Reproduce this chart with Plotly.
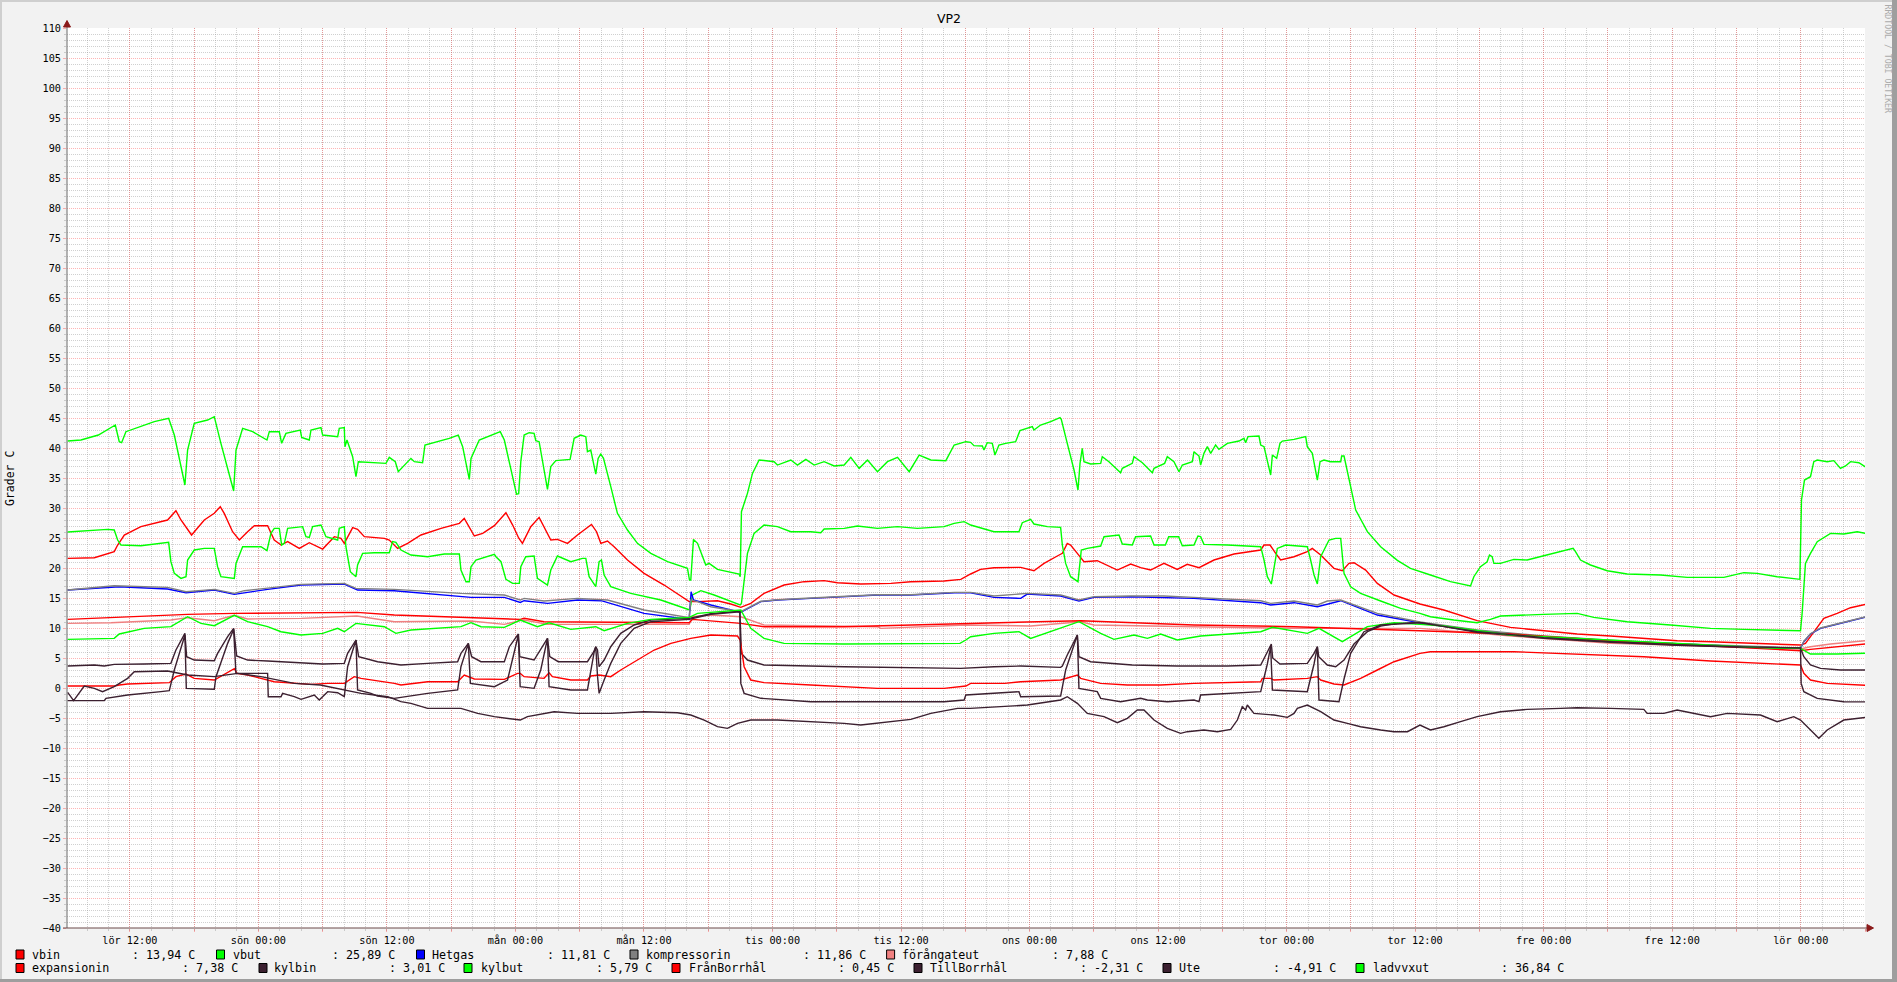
import plotly.graph_objects as go

# ---------------- data: (hours since Saturday 00:00, temperature in C) ----------------
vbin = [(6.19, 21.61), (8.68, 21.72), (10.54, 22.72), (10.86, 23.83), (11.48, 25.5), (13.03, 26.89),
        (15.52, 28.0), (16.30, 29.55), (16.77, 28.0), (17.76, 25.5), (18.95, 28.0), (19.88, 29.11),
        (20.44, 30.22), (20.81, 29.11), (21.59, 26.05), (22.22, 24.66), (22.99, 26.05), (23.62, 27.05),
        (24.86, 27.05), (25.48, 24.66), (26.11, 23.83), (26.73, 24.39), (27.82, 23.27), (28.75, 24.22),
        (30.0, 23.16), (31.09, 25.22), (31.71, 24.94), (32.02, 24.11), (32.80, 26.72), (33.26, 26.44),
        (33.89, 25.22), (35.76, 24.94), (36.22, 24.66), (37.0, 23.27), (37.93, 24.11), (39.18, 25.5),
        (41.05, 26.61), (42.76, 27.44), (43.22, 28.27), (44.16, 25.33), (44.94, 25.77), (46.03, 27.05),
        (47.11, 29.22), (47.74, 27.16), (48.30, 25.0), (48.65, 24.11), (49.43, 26.89), (50.21, 28.44),
        (51.30, 24.66), (51.92, 24.77), (52.86, 24.11), (53.79, 25.5), (55.10, 27.27), (55.57, 26.05),
        (55.97, 24.11), (56.59, 24.5), (57.21, 23.55), (58.46, 21.33), (60.01, 19.11), (61.88, 17.16),
        (64.22, 14.39), (65.0, 14.39), (66.86, 14.55), (68.10, 14.0), (69.04, 13.44), (69.97, 14.11),
        (71.21, 15.77), (73.08, 17.16), (74.95, 17.72), (76.82, 17.89), (78.07, 17.55), (80.24, 17.33),
        (83.05, 17.44), (84.91, 17.72), (88.02, 17.83), (89.58, 18.11), (90.50, 19.0), (91.42, 19.77),
        (92.68, 20.05), (95.17, 20.11), (96.41, 19.55), (97.35, 20.77), (98.59, 22.0), (99.06, 22.44),
        (99.52, 24.11), (99.83, 23.83), (100.46, 22.44), (101.08, 21.05), (102.32, 21.22), (103.26, 20.5),
        (104.19, 19.66), (105.44, 20.66), (106.37, 20.05), (107.30, 19.66), (108.55, 20.77), (109.79, 19.77),
        (110.72, 20.61), (111.82, 20.05), (113.22, 21.33), (115.09, 22.33), (117.58, 23.0), (117.89, 23.83),
        (118.45, 23.83), (118.98, 22.44), (119.44, 21.33), (120.69, 21.88), (121.93, 22.72), (122.40, 23.27),
        (123.18, 22.16), (124.42, 19.94), (125.20, 19.55), (125.82, 20.77), (126.29, 20.88), (127.38, 19.66),
        (128.47, 17.44), (130.03, 15.5), (132.45, 14.0), (134.68, 13.0), (137.79, 11.22), (140.90, 10.11),
        (144.01, 9.55), (147.13, 9.0), (150.24, 8.66), (153.35, 8.27), (156.46, 7.88), (159.58, 7.72),
        (162.69, 7.55), (165.80, 7.33), (167.98, 7.16), (168.44, 7.44), (169.22, 9.38), (170.16, 11.61),
        (171.40, 12.44), (172.65, 13.38), (174.05, 13.94)]

vbut = [(6.19, 26.0), (9.92, 26.44), (10.54, 26.33), (10.86, 24.66), (11.17, 23.83), (13.03, 23.72),
        (15.62, 24.27), (15.83, 21.05), (16.15, 19.11), (16.77, 18.27), (17.24, 18.55), (17.39, 21.33),
        (18.01, 23.0), (18.95, 23.27), (19.88, 23.27), (20.19, 20.22), (20.50, 18.55), (21.75, 18.27),
        (21.91, 20.77), (22.53, 23.55), (24.24, 23.55), (24.80, 22.89), (25.17, 25.77), (25.48, 26.61),
        (25.95, 26.61), (26.17, 23.83), (26.42, 24.11), (26.73, 26.61), (28.13, 26.89), (28.44, 25.22),
        (28.75, 25.11), (29.06, 26.89), (29.84, 27.16), (30.31, 25.22), (31.40, 24.66), (31.55, 26.61),
        (32.02, 26.89), (32.17, 23.55), (32.58, 19.38), (33.11, 18.55), (33.26, 20.5), (33.73, 22.44),
        (34.82, 22.55), (36.22, 22.55), (36.53, 24.39), (36.84, 24.27), (37.31, 23.0), (38.24, 22.16),
        (39.80, 21.88), (41.36, 22.33), (42.76, 22.33), (42.91, 19.66), (43.38, 17.72), (43.69, 17.72),
        (43.85, 20.22), (44.31, 21.33), (46.03, 22.27), (46.18, 21.88), (46.65, 21.05), (47.11, 18.11),
        (47.74, 17.44), (48.36, 17.44), (48.50, 20.22), (48.96, 21.88), (49.74, 22.0), (50.05, 18.27),
        (50.99, 17.16), (51.30, 19.66), (51.92, 22.0), (53.17, 21.05), (54.26, 21.61), (54.57, 21.61),
        (54.88, 18.55), (55.50, 16.88), (55.81, 21.05), (56.03, 21.33), (56.28, 18.83), (56.90, 16.88),
        (58.77, 15.77), (61.57, 14.66), (64.28, 13.0), (64.53, 15.5), (65.31, 16.22), (66.55, 15.5),
        (68.98, 13.83), (69.10, 14.11), (69.66, 22.44), (70.28, 25.77), (71.21, 27.16), (72.46, 26.89),
        (73.71, 26.05), (75.58, 26.05), (76.51, 25.89), (76.82, 26.5), (78.69, 26.61), (79.93, 27.0),
        (81.80, 26.61), (83.67, 26.89), (85.53, 26.61), (88.02, 26.89), (88.96, 27.44), (89.89, 27.72),
        (90.50, 27.16), (92.68, 26.05), (95.01, 26.05), (95.32, 27.55), (96.10, 28.11), (96.41, 27.33),
        (97.66, 26.89), (98.90, 26.77), (99.06, 23.83), (99.37, 20.77), (99.83, 18.55), (100.52, 17.72),
        (100.83, 23.0), (101.39, 23.27), (102.64, 23.66), (102.95, 25.22), (104.35, 25.5), (104.66, 24.0),
        (105.59, 23.83), (105.90, 25.22), (107.30, 25.33), (107.62, 23.83), (108.68, 23.83), (108.99, 25.22),
        (109.92, 25.22), (110.26, 23.72), (111.35, 23.83), (111.72, 25.33), (111.97, 25.22), (112.28, 23.94),
        (114.47, 23.83), (117.58, 23.55), (117.89, 21.33), (118.20, 18.55), (118.57, 17.33), (118.82, 20.22),
        (119.13, 23.27), (119.91, 23.83), (121.93, 23.55), (122.24, 21.33), (122.56, 18.83), (122.87, 17.33),
        (123.18, 21.88), (123.96, 24.66), (124.58, 24.94), (125.05, 24.94), (125.36, 19.11), (125.98, 16.88),
        (126.91, 15.77), (128.78, 14.5), (130.65, 13.27), (132.45, 12.44), (133.43, 11.88), (135.61, 11.33),
        (137.79, 10.88), (139.03, 11.44), (139.97, 12.0), (144.01, 12.27), (147.13, 12.44), (148.68, 11.77),
        (151.80, 11.05), (155.84, 10.5), (159.58, 9.94), (162.69, 9.77), (165.80, 9.66), (167.98, 9.55),
        (168.13, 12.44), (168.44, 20.77), (168.91, 22.44), (169.54, 24.39), (170.78, 25.77), (172.02, 25.66),
        (173.27, 26.05), (174.05, 25.77)]

hetgas = [(6.19, 16.33), (11.01, 16.88), (15.52, 16.5), (17.24, 15.88), (19.88, 16.33), (21.75, 15.61),
          (24.86, 16.44), (27.98, 17.16), (32.02, 17.33), (33.26, 16.33), (36.69, 16.22), (39.80, 15.77),
          (43.85, 15.11), (46.96, 15.11), (48.45, 14.27), (48.81, 14.55), (51.0, 14.11), (53.79, 14.66),
          (56.0, 14.55), (60.01, 12.44), (64.22, 11.44), (64.40, 16.05), (64.62, 14.66), (66.24, 13.83),
          (69.04, 12.61), (70.91, 14.39), (72.46, 14.66), (75.58, 14.94), (78.69, 15.22), (81.80, 15.5),
          (84.91, 15.5), (89.0, 15.88), (90.5, 15.88), (92.68, 15.11), (95.17, 14.94), (95.79, 15.66),
          (98.90, 15.33), (100.61, 14.5), (102.01, 15.11), (105.44, 15.22), (111.35, 14.94), (114.47, 14.55),
          (117.58, 14.22), (118.51, 13.83), (120.69, 14.22), (122.87, 13.55), (125.05, 14.55), (128.47, 12.16),
          (132.45, 10.88), (137.79, 9.55), (144.01, 8.55), (150.24, 7.88), (156.46, 7.33), (162.69, 6.88),
          (167.98, 6.61), (168.29, 7.72), (168.91, 9.0), (169.85, 9.94), (171.09, 10.5), (172.65, 11.22),
          (174.05, 11.81)]

kompressorin = [(6.19, 16.33), (10.54, 17.05), (15.52, 16.77), (17.24, 16.05), (19.88, 16.44), (21.75, 15.77),
                (22.68, 16.22), (24.86, 16.61), (27.98, 17.27), (32.02, 17.44), (33.11, 16.61), (36.69, 16.44),
                (42.91, 15.77), (46.96, 15.5), (48.45, 14.66), (48.81, 14.94), (50.67, 14.5), (53.79, 14.94),
                (56.59, 14.66), (60.01, 13.0), (64.22, 11.72), (64.37, 14.66), (65.0, 14.39), (66.24, 13.55),
                (69.04, 12.72), (70.91, 14.45), (72.46, 14.72), (75.58, 15.0), (78.69, 15.28), (81.80, 15.55),
                (84.91, 15.55), (89.0, 15.94), (90.5, 15.94), (92.68, 15.33), (95.79, 15.77), (98.90, 15.5),
                (100.61, 14.66), (102.01, 15.22), (105.44, 15.33), (108.55, 15.33), (111.35, 15.11),
                (114.47, 14.77), (117.58, 14.55), (118.51, 14.11), (120.69, 14.5), (122.87, 13.83),
                (123.80, 14.5), (125.05, 14.66), (128.47, 12.44), (132.45, 11.0), (137.79, 9.66), (144.01, 8.66),
                (150.24, 7.95), (156.46, 7.4), (162.69, 6.95), (167.98, 6.66), (168.29, 7.77), (168.91, 9.05),
                (169.85, 10.0), (171.09, 10.55), (172.65, 11.27), (174.05, 11.86)]

forangateut = [(6.19, 10.77), (10.23, 10.88), (15.83, 11.33), (17.39, 11.72), (19.88, 11.22), (21.75, 12.11),
               (22.99, 11.5), (25.48, 11.55), (28.0, 11.61), (33.20, 12.0), (36.69, 11.05), (43.85, 11.16),
               (46.96, 10.61), (48.45, 11.22), (48.81, 11.33), (50.99, 10.61), (56.0, 10.61), (64.22, 10.61),
               (64.53, 11.88), (66.24, 12.16), (69.04, 11.88), (71.21, 10.5), (81.80, 10.22), (82.11, 9.94),
               (90.05, 10.5), (96.10, 10.33), (100.77, 11.05), (102.01, 10.5), (111.35, 10.22), (120.69, 9.94),
               (132.45, 9.94), (141.0, 8.66), (150.24, 7.44), (159.58, 6.88), (167.98, 6.5), (168.91, 6.88),
               (170.78, 7.33), (174.05, 7.88)]

expansionin = [(6.19, 11.44), (10.23, 11.77), (17.39, 12.27), (21.75, 12.44), (33.20, 12.61), (36.69, 12.16),
               (48.45, 11.44), (48.81, 11.61), (50.67, 11.05), (64.22, 10.88), (64.53, 11.44), (69.04, 10.77),
               (71.21, 10.22), (78.69, 10.22), (90.05, 10.77), (100.77, 11.22), (111.35, 10.5), (120.69, 10.22),
               (132.45, 9.55), (140.90, 9.0), (150.24, 7.88), (159.58, 7.05), (167.98, 6.22), (168.91, 6.44),
               (174.05, 7.33)]

kylbin = [(6.19, 3.66), (8.68, 3.83), (9.61, 3.66), (10.54, 3.94), (13.34, 4.0), (15.83, 4.11), (16.30, 6.33),
          (17.14, 9.11), (17.30, 5.22), (18.01, 4.66), (19.88, 4.55), (20.19, 5.77), (21.13, 8.55), (21.69, 9.94),
          (21.97, 5.33), (22.99, 4.66), (24.86, 4.5), (27.35, 4.22), (30.0, 4.0), (32.02, 4.11), (32.33, 5.77),
          (33.11, 8.0), (33.36, 5.22), (35.13, 4.38), (37.31, 3.83), (39.80, 4.11), (42.60, 4.38), (42.91, 5.77),
          (43.60, 7.44), (43.91, 5.22), (44.78, 4.38), (46.96, 4.38), (47.43, 6.88), (48.27, 9.0), (48.40, 5.22),
          (49.74, 4.66), (50.05, 5.5), (50.99, 8.27), (51.20, 5.22), (52.0, 4.38), (54.72, 4.38), (55.30, 6.0),
          (55.50, 6.88), (55.66, 6.33), (55.81, 3.55), (56.28, 4.66), (56.90, 6.88), (57.83, 9.11), (59.08, 10.5),
          (60.64, 11.33), (64.22, 11.61), (66.24, 12.4), (68.95, 12.8), (69.10, 5.77), (69.66, 4.66),
          (71.21, 3.83), (78.69, 3.55), (89.56, 3.27), (92.68, 3.55), (95.17, 3.66), (98.90, 3.44), (99.06, 3.66),
          (99.52, 5.5), (100.46, 8.83), (100.61, 5.22), (101.70, 4.38), (105.59, 3.83), (109.79, 3.66),
          (114.47, 3.66), (117.58, 3.83), (118.20, 6.0), (118.57, 7.33), (118.70, 5.0), (119.38, 4.0),
          (121.93, 4.11), (122.56, 5.77), (122.87, 6.88), (123.0, 5.22), (123.80, 3.83), (124.58, 3.55),
          (125.36, 4.66), (126.29, 7.33), (127.54, 9.38), (128.78, 10.33), (130.34, 10.77), (132.45, 10.94),
          (137.79, 9.3), (144.01, 8.3), (150.24, 7.6), (156.46, 7.1), (162.69, 6.8), (167.98, 6.65),
          (168.29, 5.22), (168.91, 3.83), (169.85, 3.27), (171.71, 3.0), (174.05, 3.01)]

kylbut = [(6.19, 8.11), (10.54, 8.27), (11.01, 9.0), (13.34, 9.94), (15.83, 10.22), (17.39, 11.88), (18.64, 10.77),
          (19.88, 10.38), (21.75, 12.11), (22.99, 11.05), (24.86, 10.22), (26.11, 9.38), (27.98, 8.83), (30.0, 9.11),
          (31.40, 9.94), (32.02, 9.38), (33.11, 10.77), (35.76, 10.22), (36.84, 9.11), (38.24, 9.66), (42.91, 10.22),
          (43.85, 10.88), (44.78, 10.22), (46.96, 10.11), (48.45, 11.33), (50.05, 10.22), (51.14, 10.88),
          (53.17, 9.77), (55.50, 10.22), (56.28, 9.55), (58.46, 10.77), (60.64, 11.44), (64.22, 11.77),
          (65.0, 12.44), (69.04, 13.0), (69.97, 9.94), (71.21, 8.27), (73.08, 7.44), (78.69, 7.33), (88.02, 7.44),
          (89.5, 7.44), (90.05, 8.0), (90.5, 8.55), (92.68, 9.11), (95.01, 9.38), (96.10, 8.27), (97.97, 9.38),
          (100.61, 11.05), (102.64, 9.11), (103.88, 8.11), (105.75, 8.83), (107.0, 8.27), (108.24, 9.0),
          (109.79, 8.0), (111.97, 8.66), (117.58, 9.38), (118.67, 10.11), (121.93, 9.11), (123.02, 9.94),
          (125.20, 7.72), (127.54, 10.22), (130.03, 10.88), (132.45, 10.61), (134.68, 10.33), (140.90, 8.83),
          (147.13, 8.27), (153.35, 7.72), (159.58, 7.16), (165.80, 6.61), (167.98, 6.61), (168.91, 5.66),
          (171.40, 5.66), (174.05, 5.79)]

franborrhal = [(6.19, 0.33), (10.54, 0.33), (11.01, 0.5), (11.79, 0.66), (15.68, 0.89), (16.30, 1.89),
               (17.24, 2.33), (18.01, 1.61), (19.88, 1.33), (21.75, 3.22), (22.0, 2.44), (22.99, 2.16),
               (25.48, 1.05), (27.35, 0.77), (28.91, 0.61), (30.47, 0.77), (32.02, 0.77), (32.95, 1.89),
               (33.58, 1.61), (36.69, 0.77), (37.31, 0.5), (39.80, 1.05), (42.60, 1.05), (43.22, 2.16),
               (44.16, 1.5), (46.96, 1.44), (48.20, 2.44), (48.45, 2.44), (48.81, 1.89), (50.67, 1.61),
               (51.14, 2.55), (51.45, 1.89), (53.17, 1.33), (54.72, 1.33), (55.03, 2.0), (55.81, 2.16),
               (56.90, 1.89), (57.83, 3.0), (59.39, 4.66), (60.95, 6.33), (62.51, 7.44), (64.37, 8.27),
               (66.24, 8.83), (68.73, 8.66), (68.98, 8.0), (69.35, 3.55), (69.97, 1.33), (71.21, 0.89),
               (75.58, 0.5), (78.69, 0.22), (81.80, -0.06), (88.02, -0.06), (90.05, 0.33), (90.5, 0.77),
               (93.68, 0.77), (95.17, 1.05), (98.90, 1.33), (100.46, 2.16), (100.77, 1.61), (102.64, 0.77),
               (105.13, 0.5), (108.24, 0.5), (111.35, 0.77), (117.58, 1.05), (117.73, 1.61), (118.51, 1.61),
               (118.82, 1.33), (121.93, 1.61), (122.87, 1.89), (123.18, 1.33), (124.42, 0.66), (125.36, 0.5),
               (126.91, 1.61), (128.47, 3.0), (130.03, 4.38), (132.45, 5.77), (133.43, 6.05), (141.21, 6.05),
               (147.13, 5.66), (153.35, 5.22), (159.58, 4.5), (165.80, 4.0), (167.98, 3.83), (168.29, 2.44),
               (168.91, 1.33), (170.47, 0.77), (174.05, 0.45)]

tillborrhal = [(6.19, -2.11), (9.61, -2.11), (9.77, -1.72), (11.79, -1.17), (14.90, -0.61), (15.68, -0.44),
               (16.15, 3.0), (17.14, 8.83), (17.27, -0.06), (19.88, -0.22), (20.04, 1.89), (21.13, 7.44),
               (21.69, 9.77), (21.90, 2.44), (24.86, 2.44), (24.92, -1.45), (26.11, -1.45), (26.26, -0.89),
               (27.35, -1.45), (27.98, -1.89), (29.22, -1.17), (29.68, -2.0), (30.47, -0.61), (31.40, -0.78),
               (32.02, -1.45), (32.33, 3.55), (33.11, 8.0), (33.26, -0.33), (34.51, -0.89), (35.13, -1.34),
               (36.69, -1.72), (39.80, -0.89), (42.60, -0.33), (42.91, 3.55), (43.60, 7.44), (43.79, 0.77),
               (46.03, 0.22), (47.26, 1.33), (48.27, 8.83), (48.44, 0.22), (49.74, -0.06), (50.36, 3.0),
               (50.99, 8.27), (51.14, 0.22), (53.17, -0.33), (54.72, -0.33), (55.35, 6.0), (55.50, 6.88),
               (55.66, 2.0), (55.81, -0.89), (56.28, 1.33), (56.90, 4.11), (57.83, 7.44), (59.08, 9.94),
               (60.64, 11.05), (64.22, 11.44), (66.24, 12.3), (68.95, 12.7), (69.04, 0.77), (69.35, -0.89),
               (70.91, -1.72), (75.58, -2.28), (88.02, -2.28), (89.89, -2.0), (90.05, -1.17), (95.01, -0.61),
               (95.17, -1.45), (98.90, -1.34), (99.37, 3.0), (100.46, 8.83), (100.61, -0.06), (102.32, -0.61),
               (102.64, -1.72), (104.50, -2.28), (106.37, -1.72), (107.0, -2.0), (108.86, -2.28), (111.35, -2.0),
               (111.82, -2.28), (111.97, -1.17), (117.58, -0.61), (118.20, 4.0), (118.51, 6.88), (118.67, -0.33),
               (121.93, -0.61), (122.56, 4.0), (122.87, 6.88), (123.02, -2.0), (124.89, -2.28), (125.36, 1.5),
               (125.98, 5.77), (127.22, 9.38), (128.78, 10.5), (132.45, 10.88), (137.79, 9.4), (144.01, 8.4),
               (150.24, 7.7), (156.46, 7.2), (162.69, 6.85), (167.98, 6.66), (168.04, 0.77), (168.29, -0.61),
               (169.54, -1.72), (172.02, -2.28), (174.05, -2.31)]

ute = [(6.19, -0.72), (6.75, -2.11), (7.74, 0.33), (8.68, -0.06), (9.45, -0.61), (10.54, 0.22), (11.79, 1.61),
       (12.41, 2.72), (15.52, 2.83), (17.39, 2.16), (19.88, 1.89), (22.06, 2.44), (24.24, 1.89), (27.35, 0.77),
       (29.78, 0.5), (32.02, -0.33), (33.58, -0.89), (36.07, -1.45), (37.31, -2.28), (38.24, -2.56),
       (39.80, -3.39), (42.91, -3.39), (44.47, -4.23), (46.03, -4.78), (48.45, -5.34), (49.12, -4.78),
       (51.61, -3.95), (53.79, -4.23), (56.90, -4.23), (60.01, -3.95), (63.13, -4.12), (64.37, -4.5),
       (65.62, -5.34), (66.86, -6.45), (67.79, -6.72), (68.73, -5.89), (69.97, -5.34), (72.46, -5.34),
       (75.58, -5.61), (78.69, -5.89), (80.24, -6.17), (81.80, -5.89), (84.91, -5.23), (86.78, -4.23),
       (89.27, -3.39), (90.45, -3.39), (92.68, -3.11), (95.79, -2.84), (98.90, -2.0), (99.52, -1.45),
       (100.46, -2.56), (101.39, -4.23), (102.95, -4.78), (104.19, -5.78), (105.13, -5.06), (106.06, -3.67),
       (106.68, -3.67), (107.62, -5.34), (108.86, -6.72), (110.10, -7.56), (110.72, -7.28), (112.28, -7.0),
       (113.53, -7.28), (114.78, -6.89), (115.40, -5.34), (115.86, -3.11), (116.17, -3.67), (116.33, -2.84),
       (116.95, -4.23), (118.82, -4.5), (120.07, -4.89), (120.69, -4.23), (121.0, -3.39), (121.93, -2.84),
       (123.18, -3.95), (124.42, -5.34), (125.67, -5.89), (126.91, -6.45), (128.78, -7.0), (130.03, -7.28),
       (131.28, -7.28), (132.45, -6.17), (133.43, -7.0), (134.68, -6.45), (136.24, -5.61), (137.79, -4.78),
       (139.97, -3.95), (142.46, -3.56), (145.57, -3.39), (147.13, -3.28), (150.24, -3.39), (153.35, -3.56),
       (153.66, -4.23), (155.22, -4.23), (156.46, -3.67), (158.02, -4.23), (159.58, -4.78), (161.13, -4.23),
       (162.69, -4.39), (164.24, -4.5), (165.80, -5.61), (167.35, -4.78), (167.98, -5.34), (168.91, -7.0),
       (169.69, -8.39), (170.47, -7.0), (172.02, -5.34), (174.05, -4.91)]

ladvvxut = [(6.19, 41.16), (7.43, 41.33), (9.06, 42.16), (10.64, 43.83), (11.01, 41.05), (11.23, 40.89),
            (11.63, 42.72), (14.28, 44.39), (15.62, 44.94), (16.15, 42.16), (17.14, 33.83), (17.39, 39.66),
            (18.01, 44.11), (19.26, 44.66), (19.88, 45.22), (20.50, 40.78), (21.69, 32.83), (21.91, 39.66),
            (22.53, 43.28), (23.46, 42.72), (24.80, 41.33), (25.02, 42.72), (25.95, 42.72), (26.17, 40.78),
            (26.57, 42.44), (27.91, 43.0), (28.04, 41.77), (28.75, 41.33), (28.91, 43.0), (29.84, 43.39),
            (30.0, 42.16), (31.40, 41.89), (31.55, 43.28), (32.02, 43.39), (32.08, 40.22), (32.27, 41.33),
            (32.80, 38.55), (33.11, 35.22), (33.33, 37.72), (35.91, 37.44), (36.22, 38.44), (36.78, 37.72),
            (37.06, 36.05), (37.62, 37.16), (38.24, 38.27), (38.56, 37.72), (39.33, 37.55), (39.55, 40.5),
            (40.73, 41.05), (41.82, 41.61), (42.66, 42.16), (43.07, 40.22), (43.69, 34.77), (43.85, 38.27),
            (44.62, 41.33), (45.71, 42.16), (46.58, 42.72), (46.96, 41.33), (48.10, 32.3), (48.30, 32.4),
            (48.50, 37.72), (48.81, 42.16), (49.28, 42.55), (49.74, 42.44), (49.90, 41.22), (50.21, 41.05),
            (50.99, 33.11), (51.30, 36.89), (51.77, 37.89), (53.10, 38.11), (53.48, 41.61), (54.10, 42.16),
            (54.57, 41.89), (54.72, 39.39), (55.03, 39.66), (55.50, 35.66), (55.72, 38.27), (55.97, 39.0),
            (56.22, 38.27), (56.90, 33.55), (57.52, 29.11), (58.46, 26.33), (59.39, 24.11), (60.64, 22.44),
            (62.20, 21.05), (64.06, 19.94), (64.25, 18.0), (64.37, 18.0), (64.62, 24.77), (65.0, 24.11),
            (65.77, 20.5), (66.08, 20.77), (66.86, 19.77), (68.88, 19.0), (68.98, 18.55), (69.10, 29.39),
            (69.66, 32.44), (70.13, 35.77), (70.75, 38.0), (72.15, 37.72), (72.46, 37.16), (73.71, 38.0),
            (74.33, 37.16), (75.11, 38.11), (75.89, 37.16), (76.82, 37.72), (77.76, 37.0), (78.69, 37.16),
            (79.31, 38.44), (80.09, 36.61), (80.87, 38.0), (81.80, 36.05), (82.73, 37.72), (83.67, 38.44),
            (84.76, 36.05), (85.69, 38.83), (86.78, 38.0), (88.18, 37.89), (88.96, 40.5), (90.05, 41.05),
            (90.50, 40.94), (90.81, 40.39), (91.59, 40.33), (91.74, 39.66), (92.05, 40.89), (92.52, 40.78),
            (92.77, 38.83), (93.14, 40.5), (93.77, 40.78), (94.70, 41.05), (95.10, 42.89), (96.26, 43.55),
            (96.41, 43.0), (97.03, 43.83), (97.97, 44.39), (98.84, 45.05), (98.96, 44.77), (99.52, 40.78),
            (100.15, 36.33), (100.52, 33.0), (100.71, 37.44), (100.92, 39.94), (101.08, 37.72), (101.70, 37.33),
            (102.64, 37.44), (102.79, 38.55), (103.41, 37.72), (104.50, 35.89), (104.66, 36.61), (105.59, 37.44),
            (105.75, 38.55), (106.53, 37.55), (107.46, 35.89), (107.62, 36.61), (108.61, 37.44), (108.86, 38.55),
            (109.48, 37.72), (109.95, 36.05), (110.26, 37.16), (111.20, 37.72), (111.35, 39.39), (111.82, 38.66),
            (111.97, 37.16), (112.28, 39.11), (112.60, 40.22), (112.91, 39.11), (113.37, 40.5), (113.68, 39.78),
            (114.47, 40.78), (115.55, 41.16), (116.02, 41.61), (116.17, 40.89), (116.39, 41.89), (117.42, 42.0),
            (117.58, 40.5), (117.89, 40.22), (118.20, 37.72), (118.51, 35.5), (118.67, 38.83), (119.07, 38.27),
            (119.38, 40.78), (119.60, 41.16), (120.69, 41.44), (121.78, 41.89), (121.93, 40.22), (122.40, 39.11),
            (122.87, 34.66), (123.12, 37.72), (123.49, 38.0), (124.11, 37.72), (125.05, 37.72), (125.14, 38.66),
            (125.36, 38.66), (125.82, 34.66), (126.45, 29.66), (127.54, 26.05), (128.78, 23.55), (130.34, 21.28),
            (131.56, 19.94), (133.43, 18.83), (135.30, 17.72), (137.17, 17.0), (137.48, 18.55), (138.10, 20.22),
            (138.72, 21.05), (138.94, 22.16), (139.19, 21.88), (139.35, 20.77), (139.97, 20.77), (141.21, 21.44),
            (142.46, 21.33), (144.01, 22.05), (145.57, 22.72), (146.75, 23.27), (146.97, 22.72), (147.44, 21.33),
            (148.37, 20.5), (149.93, 19.55), (151.80, 19.0), (154.91, 18.83), (157.40, 18.44), (160.82, 18.44),
            (162.69, 19.22), (163.93, 19.11), (165.80, 18.55), (167.92, 18.11), (168.07, 31.33), (168.35, 34.66),
            (168.91, 35.22), (169.22, 37.72), (169.54, 38.0), (170.47, 37.72), (171.09, 37.89), (171.71, 36.61),
            (172.18, 37.0), (172.65, 37.72), (173.43, 37.55), (174.05, 36.84)]

legend_names = ["vbin", "vbut", "Hetgas", "kompressorin", "förångateut", "expansionin",
                "kylbin", "kylbut", "FrånBorrhål", "TillBorrhål", "Ute", "ladvvxut"]
legend_last = [13.94, 25.89, 11.81, 11.86, 7.88, 7.38, 3.01, 5.79, 0.45, -2.31, -4.91, 36.84]
series_data = [vbin, vbut, hetgas, kompressorin, forangateut, expansionin,
               kylbin, kylbut, franborrhal, tillborrhal, ute, ladvvxut]

x_label_hours = [12, 24, 36, 48, 60, 72, 84, 96, 108, 120, 132, 144, 156, 168]
x_label_texts = ["lör 12:00", "sön 00:00", "sön 12:00", "mån 00:00", "mån 12:00", "tis 00:00",
                 "tis 12:00", "ons 00:00", "ons 12:00", "tor 00:00", "tor 12:00", "fre 00:00",
                 "fre 12:00", "lör 00:00"]

# ---------------- styling ----------------
RED, GREEN, BLUE, GRAY, SALMON, DARK = "#FF0000", "#00FF00", "#0000FF", "#808080", "#F08080", "#3C2030"
series_colors = [RED, GREEN, BLUE, GRAY, SALMON, RED, DARK, GREEN, RED, DARK, DARK, GREEN]

W, H = 1897, 982
L, R, T, B = 67, 32, 28, 54
PW, PH = W - L - R, H - T - B
X0, X1 = 6.13, 174.0
MONO = "DejaVu Sans Mono"


def px(xp):
    return (xp - L) / PW


def py(yp):
    return (H - B - yp) / PH


fig = go.Figure()
for name, pts, col in zip(legend_names, series_data, series_colors):
    fig.add_trace(go.Scatter(x=[p[0] for p in pts], y=[p[1] for p in pts], mode="lines",
                             name=name, line=dict(color=col, width=1.4),
                             hoverinfo="skip", showlegend=False))

major_vals = list(range(6, 175, 6))
major_text = [x_label_texts[x_label_hours.index(h)] if h in x_label_hours else "" for h in major_vals]

MAJ = "rgba(255,60,60,0.38)"
MIN = "rgba(150,150,150,0.45)"

fig.update_xaxes(range=[X0, X1], tickmode="array", tickvals=major_vals, ticktext=major_text,
                 showgrid=True, gridcolor=MAJ, griddash="1px,1px", gridwidth=1,
                 ticks="outside", ticklen=3, tickcolor=MAJ, showline=False, zeroline=False,
                 tickfont=dict(family=MONO, size=10.2, color="#000"),
                 minor=dict(tick0=0, dtick=2, showgrid=True, gridcolor=MIN, griddash="1px,1px",
                            ticks="outside", ticklen=2, tickcolor=MIN),
                 automargin=False, fixedrange=True)
fig.update_yaxes(range=[-40, 110], tickmode="linear", tick0=-40, dtick=5,
                 showgrid=True, gridcolor=MAJ, griddash="1px,1px", gridwidth=1,
                 ticks="outside", ticklen=3, tickcolor=MAJ, showline=False, zeroline=False,
                 tickfont=dict(family=MONO, size=10.2, color="#000"),
                 minor=dict(tick0=0, dtick=1, showgrid=True, gridcolor=MIN, griddash="1px,1px",
                            ticks="outside", ticklen=2, tickcolor=MIN),
                 automargin=False, fixedrange=True)

shapes = []
# canvas shading border
shapes.append(dict(type="rect", xref="paper", yref="paper", x0=px(0), x1=px(W), y0=py(0), y1=py(2),
                   fillcolor="#CFCFCF", line_width=0, layer="below"))
shapes.append(dict(type="rect", xref="paper", yref="paper", x0=px(0), x1=px(2), y0=py(0), y1=py(H),
                   fillcolor="#CFCFCF", line_width=0, layer="below"))
shapes.append(dict(type="rect", xref="paper", yref="paper", x0=px(W - 5), x1=px(W), y0=py(0), y1=py(H),
                   fillcolor="#9E9E9E", line_width=0, layer="below"))
shapes.append(dict(type="rect", xref="paper", yref="paper", x0=px(0), x1=px(W), y0=py(H - 3), y1=py(H),
                   fillcolor="#9E9E9E", line_width=0, layer="below"))
# axes with arrows
shapes.append(dict(type="line", xref="paper", yref="paper", x0=px(L), x1=px(L), y0=py(H - B), y1=py(22),
                   line=dict(color="#6A6A6A", width=1)))
shapes.append(dict(type="line", xref="paper", yref="paper", x0=px(L - 4), x1=px(1868), y0=py(H - B), y1=py(H - B),
                   line=dict(color="#6A4848", width=1)))
shapes.append(dict(type="path", xref="paper", yref="paper",
                   path=f"M {px(L-3.5)},{py(27)} L {px(L)},{py(20.5)} L {px(L+3.5)},{py(27)} Z",
                   fillcolor="#8B1A1A", line=dict(color="#8B1A1A", width=1)))
shapes.append(dict(type="path", xref="paper", yref="paper",
                   path=f"M {px(1867)},{py(H-B-3.5)} L {px(1873.5)},{py(H-B)} L {px(1867)},{py(H-B+3.5)} Z",
                   fillcolor="#8B1A1A", line=dict(color="#8B1A1A", width=1)))

annotations = []
annotations.append(dict(text="VP2", xref="paper", yref="paper", x=px(948.5), y=py(18), showarrow=False,
                        xanchor="center", yanchor="middle", font=dict(family="DejaVu Sans", size=12.5, color="#000")))
annotations.append(dict(text="Grader C", xref="paper", yref="paper", x=px(10), y=py(478), showarrow=False,
                        textangle=-90, xanchor="center", yanchor="middle",
                        font=dict(family=MONO, size=11.5, color="#000")))
annotations.append(dict(text="RRDTOOL / TOBI OETIKER", xref="paper", yref="paper", x=px(1887.5), y=py(59),
                        showarrow=False, textangle=90, xanchor="center", yanchor="middle",
                        font=dict(family=MONO, size=8.2, color="#ABABAB")))

# legend layout (row, box x, name x, value x) in pixels
legend_layout = [(0, 16, 30, 129.5), (0, 216.5, 231, 330), (0, 416.5, 429.5, 544.6), (0, 630, 644, 801),
                 (0, 886.6, 900, 1050), (1, 16, 30, 179.5), (1, 259, 272, 386.6), (1, 464, 478.6, 594),
                 (1, 672, 686.6, 835.7), (1, 914, 927.7, 1077.7), (1, 1163, 1176.8, 1270.5),
                 (1, 1356, 1370.5, 1498.8)]
row_y = [954.5, 968.0]
for name, last, col, (row, bx, nx, vx) in zip(legend_names, legend_last, series_colors, legend_layout):
    yc = row_y[row]
    shapes.append(dict(type="rect", xref="paper", yref="paper", x0=px(bx), x1=px(bx + 8),
                       y0=py(yc - 4.5), y1=py(yc + 4.5), fillcolor=col, line=dict(color="#000", width=1)))
    annotations.append(dict(text=name, xref="paper", yref="paper", x=px(nx), y=py(yc), showarrow=False,
                            xanchor="left", yanchor="middle", font=dict(family=MONO, size=11.7, color="#000")))
    val = (": %.2f C" % last).replace(".", ",")
    annotations.append(dict(text=val, xref="paper", yref="paper", x=px(vx), y=py(yc), showarrow=False,
                            xanchor="left", yanchor="middle", font=dict(family=MONO, size=11.7, color="#000")))

fig.update_layout(width=W, height=H, margin=dict(l=L, r=R, t=T, b=B, pad=0),
                  paper_bgcolor="#F2F2F2", plot_bgcolor="#FFFFFF",
                  shapes=shapes, annotations=annotations, showlegend=False,
                  font=dict(family=MONO, size=10.2, color="#000"))

fig.write_html("out.html", config={"displayModeBar": False, "staticPlot": True},
               post_script="document.body.style.margin='0';document.body.style.overflow='hidden';")
